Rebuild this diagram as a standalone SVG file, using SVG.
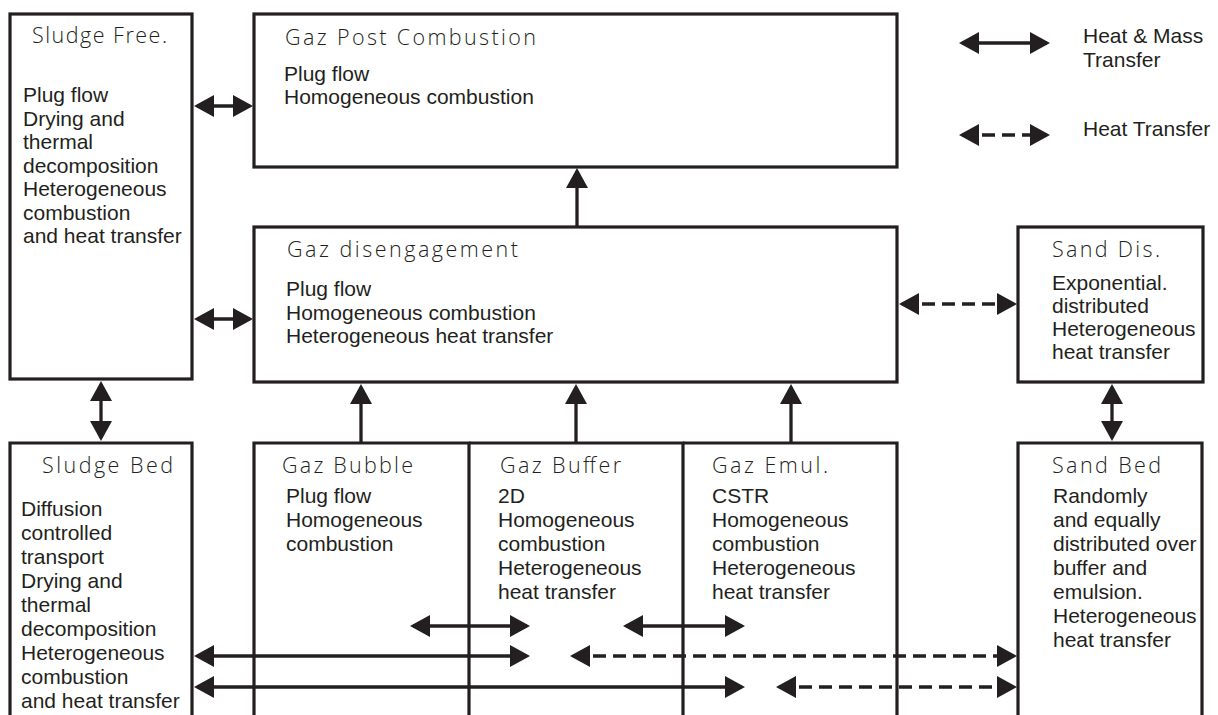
<svg xmlns="http://www.w3.org/2000/svg" width="1218" height="715" viewBox="0 0 1218 715">
<style>
.box{fill:none;stroke:#231f20;stroke-width:3.2;stroke-linejoin:miter}
.ttl{font-family:"Open Sans","Liberation Sans",sans-serif;font-weight:300;font-size:21.5px;fill:#231f20}
.txt{font-family:"Liberation Sans",Arial,sans-serif;font-size:21px;fill:#231f20}
.ln{fill:none;stroke:#231f20;stroke-width:3.3}
.ar{marker-end:url(#ah)}
.dbl{marker-start:url(#ah);marker-end:url(#ah)}
.dash{stroke-dasharray:13 7}
</style>
<defs>
<marker id="ah" viewBox="0 0 20 22" refX="17" refY="11" markerWidth="20" markerHeight="22" markerUnits="userSpaceOnUse" orient="auto-start-reverse">
<path d="M0,0 L20,11 L0,22 z" fill="#231f20"/>
</marker>
</defs>
<rect width="1218" height="715" fill="#fff"/>

<g id="sludge-free">
<rect class="box" x="10" y="14" width="182" height="365"/>
<text class="ttl" x="32" y="43" textLength="135" lengthAdjust="spacing">Sludge Free.</text>
<text class="txt" x="23" y="102">Plug flow</text>
<text class="txt" x="23" y="125.5">Drying and</text>
<text class="txt" x="23" y="149">thermal</text>
<text class="txt" x="23" y="172.5">decomposition</text>
<text class="txt" x="23" y="196">Heterogeneous</text>
<text class="txt" x="23" y="219.5">combustion</text>
<text class="txt" x="23" y="243">and heat transfer</text>
</g>

<g id="gaz-post-combustion">
<rect class="box" x="254" y="14" width="643" height="153"/>
<text class="ttl" x="285" y="45" textLength="251" lengthAdjust="spacing">Gaz Post Combustion</text>
<text class="txt" x="284" y="81">Plug flow</text>
<text class="txt" x="284" y="104">Homogeneous combustion</text>
</g>

<g id="gaz-disengagement">
<rect class="box" x="254" y="227" width="643" height="155"/>
<text class="ttl" x="287" y="257" textLength="231" lengthAdjust="spacing">Gaz disengagement</text>
<text class="txt" x="286" y="296">Plug flow</text>
<text class="txt" x="286" y="320">Homogeneous combustion</text>
<text class="txt" x="286" y="343">Heterogeneous heat transfer</text>
</g>

<g id="sand-dis">
<rect class="box" x="1018" y="227" width="185" height="155"/>
<text class="ttl" x="1052" y="257" textLength="108" lengthAdjust="spacing">Sand Dis.</text>
<text class="txt" x="1052" y="290">Exponential.</text>
<text class="txt" x="1052" y="313">distributed</text>
<text class="txt" x="1052" y="336">Heterogeneous</text>
<text class="txt" x="1052" y="359">heat transfer</text>
</g>

<g id="sludge-bed">
<path class="box" d="M10,720 V443 H192 V720"/>
<text class="ttl" x="42" y="473" textLength="131" lengthAdjust="spacing">Sludge Bed</text>
<text class="txt" x="21" y="516">Diffusion</text>
<text class="txt" x="21" y="540">controlled</text>
<text class="txt" x="21" y="564">transport</text>
<text class="txt" x="21" y="588">Drying and</text>
<text class="txt" x="21" y="612">thermal</text>
<text class="txt" x="21" y="636">decomposition</text>
<text class="txt" x="21" y="660">Heterogeneous</text>
<text class="txt" x="21" y="684">combustion</text>
<text class="txt" x="21" y="708">and heat transfer</text>
</g>

<g id="gaz-bubble">
<path class="box" d="M254,720 V443 H469 V720"/>
<text class="ttl" x="282" y="473" textLength="131" lengthAdjust="spacing">Gaz Bubble</text>
<text class="txt" x="286" y="503">Plug flow</text>
<text class="txt" x="286" y="527">Homogeneous</text>
<text class="txt" x="286" y="551">combustion</text>
</g>

<g id="gaz-buffer">
<path class="box" d="M469,443 H683 V720"/>
<text class="ttl" x="500" y="473" textLength="121" lengthAdjust="spacing">Gaz Buffer</text>
<text class="txt" x="498" y="503">2D</text>
<text class="txt" x="498" y="527">Homogeneous</text>
<text class="txt" x="498" y="551">combustion</text>
<text class="txt" x="498" y="575">Heterogeneous</text>
<text class="txt" x="498" y="599">heat transfer</text>
</g>

<g id="gaz-emul">
<path class="box" d="M683,443 H897 V720"/>
<text class="ttl" x="712" y="473" textLength="116" lengthAdjust="spacing">Gaz Emul.</text>
<text class="txt" x="712" y="503">CSTR</text>
<text class="txt" x="712" y="527">Homogeneous</text>
<text class="txt" x="712" y="551">combustion</text>
<text class="txt" x="712" y="575">Heterogeneous</text>
<text class="txt" x="712" y="599">heat transfer</text>
</g>

<g id="sand-bed">
<path class="box" d="M1018,720 V443 H1202 V720"/>
<text class="ttl" x="1052" y="473" textLength="109" lengthAdjust="spacing">Sand Bed</text>
<text class="txt" x="1053" y="503">Randomly</text>
<text class="txt" x="1053" y="527">and equally</text>
<text class="txt" x="1053" y="551">distributed over</text>
<text class="txt" x="1053" y="575">buffer and</text>
<text class="txt" x="1053" y="599">emulsion.</text>
<text class="txt" x="1053" y="623">Heterogeneous</text>
<text class="txt" x="1053" y="647">heat transfer</text>
</g>

<g id="legend">
<line class="ln dbl" x1="962" y1="43" x2="1047" y2="43"/>
<text class="txt" x="1083" y="43">Heat &amp; Mass</text>
<text class="txt" x="1083" y="67">Transfer</text>
<line class="ln dbl dash" x1="962" y1="135" x2="1047" y2="135"/>
<text class="txt" x="1083" y="136">Heat Transfer</text>
</g>

<g id="connectors">
<line class="ln dbl" x1="197" y1="106" x2="250" y2="106"/>
<line class="ln dbl" x1="197" y1="319" x2="250" y2="319"/>
<line class="ln ar" x1="577" y1="227" x2="577" y2="171"/>
<line class="ln ar" x1="361" y1="443" x2="361" y2="387"/>
<line class="ln ar" x1="576" y1="443" x2="576" y2="387"/>
<line class="ln ar" x1="791" y1="443" x2="791" y2="387"/>
<line class="ln dbl dash" x1="902" y1="304" x2="1014" y2="304"/>
<line class="ln dbl" x1="1112" y1="387" x2="1112" y2="438"/>
<line class="ln dbl" x1="101" y1="384" x2="101" y2="438"/>
<line class="ln dbl" x1="413" y1="626" x2="527" y2="626"/>
<line class="ln dbl" x1="626" y1="626" x2="742" y2="626"/>
<line class="ln dbl" x1="197" y1="656" x2="527" y2="656"/>
<line class="ln dbl dash" x1="573" y1="656" x2="1014" y2="656"/>
<line class="ln dbl" x1="197" y1="687" x2="742" y2="687"/>
<line class="ln dbl dash" x1="779" y1="687" x2="1014" y2="687"/>
</g>
</svg>
